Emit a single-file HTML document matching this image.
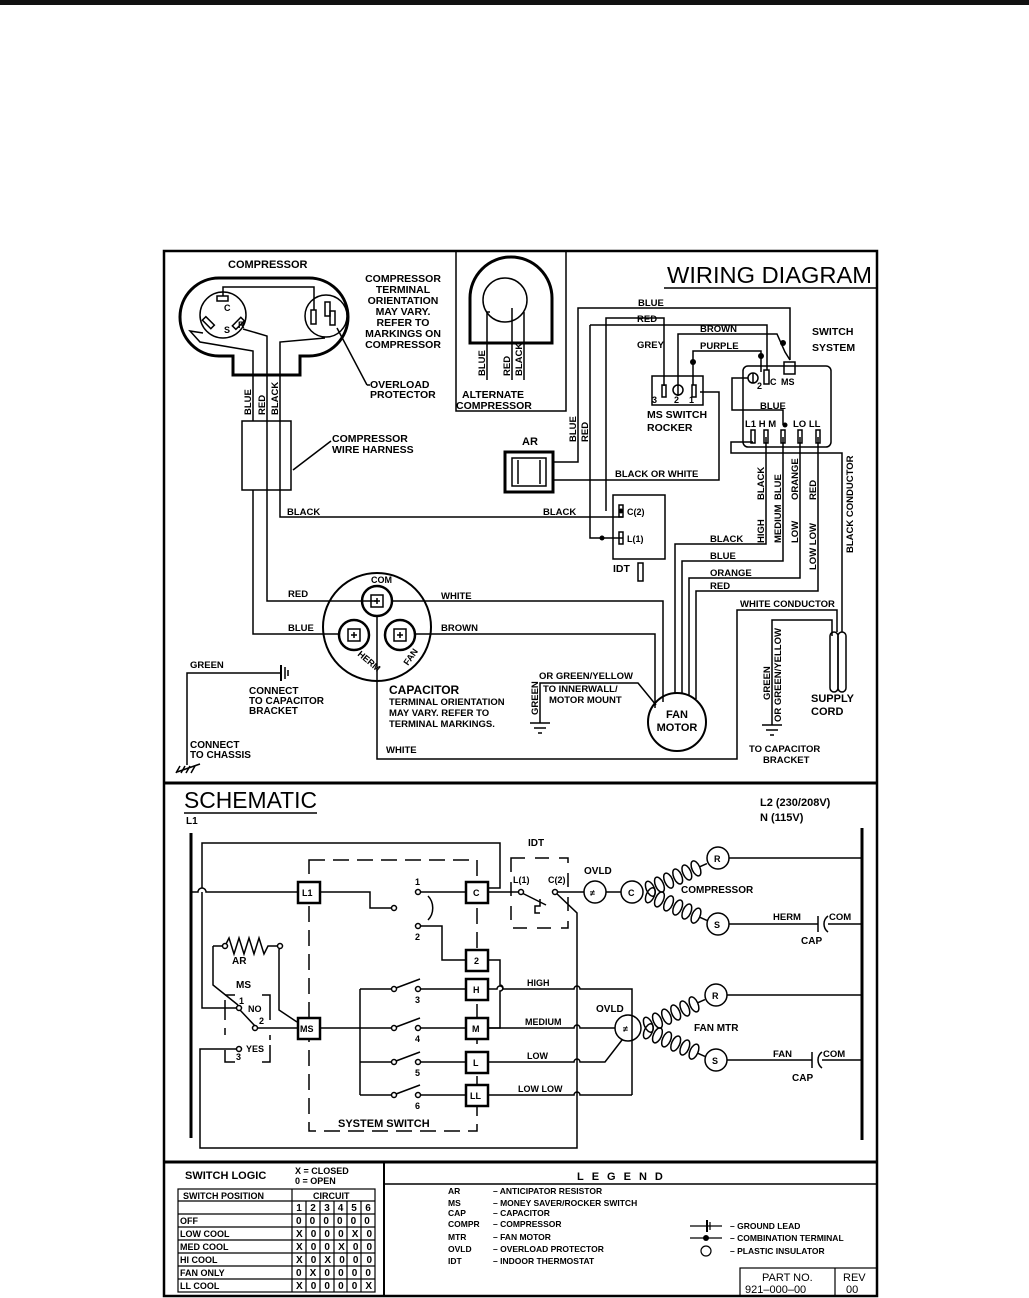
<!DOCTYPE html>
<html><head><meta charset="utf-8"><style>
html,body{margin:0;padding:0;background:#fff;width:1029px;height:1298px;overflow:hidden}
svg{display:block}
text{font-family:"Liberation Sans",sans-serif;font-weight:bold;fill:#000}
.n{font-weight:normal}
</style></head><body>
<svg width="1029" height="1298" viewBox="0 0 1029 1298" xmlns="http://www.w3.org/2000/svg">
<rect x="0" y="0" width="1029" height="5" fill="#111"/>
<g fill="none" stroke="#000" stroke-width="1.5">
<rect x="164" y="251" width="713" height="1045" stroke-width="2.5"/>
<line x1="164" y1="783" x2="877" y2="783" stroke-width="3"/>
<line x1="164" y1="1162" x2="877" y2="1162" stroke-width="3"/>
<line x1="384" y1="1162" x2="384" y2="1296" stroke-width="2"/>
<line x1="384" y1="1184" x2="877" y2="1184"/>
<line x1="664" y1="288" x2="877" y2="288"/>
<polyline points="456,251 456,411 566,411 566,251"/>
<path d="M470,343 V298 A41,41 0 0 1 552,298 V343 Z" stroke-width="3"/>
<circle cx="505" cy="300" r="22"/>
<polyline points="490,312 487,312 487,343"/>
<line x1="512" y1="308" x2="512" y2="343"/>
<line x1="524" y1="312" x2="524" y2="343"/>
<line x1="487" y1="343" x2="487" y2="380"/><line x1="512" y1="343" x2="512" y2="380"/><line x1="524" y1="343" x2="524" y2="380"/>
<path d="M219,278 H309 A39,39 0 0 1 309,356 H300 V375 H233 V356 H219 A39,39 0 0 1 219,278 Z" stroke-width="3"/>
<circle cx="223" cy="315" r="23"/>
<circle cx="326" cy="316" r="21"/>
<rect x="217" y="296" width="11" height="5"/>
<rect x="206" y="317" width="5" height="12" transform="rotate(-45 208 323)"/>
<rect x="236" y="317" width="5" height="12" transform="rotate(45 238 323)"/>
<rect x="311" y="310" width="5" height="14"/><rect x="325" y="302" width="5" height="14"/><rect x="330" y="311" width="5" height="14"/>
<polyline points="223,296 223,287 314,287 314,310"/>
<polyline points="203,333 190,331 200,342 253,351 253,421"/>
<polyline points="243,329 267,336 267,601 377,601"/>
<polyline points="325,338 280,342 280,517 623,517"/>
<line x1="337" y1="328" x2="367" y2="385"/>
<line x1="367" y1="385" x2="370" y2="385"/>
<rect x="242" y="421" width="49" height="69"/>
<line x1="331" y1="441" x2="293" y2="470"/>
<polyline points="253,490 253,634 340,634"/>
<circle cx="377" cy="627" r="54" stroke-width="2"/>
<circle cx="377" cy="601" r="15" stroke-width="2.5"/><rect x="371" y="595" width="12" height="12"/>
<circle cx="354" cy="635" r="15" stroke-width="2.5"/><rect x="348" y="629" width="12" height="12"/>
<circle cx="400" cy="635" r="15" stroke-width="2.5"/><rect x="394" y="629" width="12" height="12"/>
<line x1="377" y1="598" x2="377" y2="604"/><line x1="374" y1="601" x2="380" y2="601"/>
<line x1="354" y1="632" x2="354" y2="638"/><line x1="351" y1="635" x2="357" y2="635"/>
<line x1="400" y1="632" x2="400" y2="638"/><line x1="397" y1="635" x2="403" y2="635"/>
<polyline points="377,616 377,759 737,759 737,610 837,610 837,632"/>
<polyline points="392,601 663,601 663,702"/>
<polyline points="415,634 655,634 655,708"/>
<polyline points="187,765 187,673 281,673"/>
<line x1="281" y1="665" x2="281" y2="681" stroke-width="2"/><line x1="285" y1="667" x2="285" y2="679"/><line x1="288" y1="670" x2="288" y2="676"/>
<line x1="177" y1="772" x2="200" y2="764"/><line x1="180" y1="766" x2="176" y2="773"/><line x1="185" y1="766" x2="181" y2="773"/><line x1="190" y1="766" x2="186" y2="773"/><line x1="195" y1="766" x2="191" y2="773"/>
<polyline points="540,723 540,683 638,683 656,705"/>
<line x1="530" y1="723" x2="550" y2="723"/><line x1="534" y1="728" x2="546" y2="728"/><line x1="538" y1="733" x2="542" y2="733"/>
<circle cx="677" cy="722" r="29" stroke-width="2"/>
<polyline points="675,693 675,544 766,544 766,437"/>
<polyline points="682,694 682,561 783,561 783,437"/>
<polyline points="689,696 689,578 800,578 800,437"/>
<polyline points="696,699 696,591 818,591 818,437"/>
<rect x="830" y="632" width="8" height="60" rx="4"/>
<rect x="838" y="632" width="8" height="60" rx="4"/>
<polyline points="842,632 842,453 731,453 731,442 753,442"/>
<polyline points="832,636 832,620 772,620 772,725"/>
<line x1="762" y1="725" x2="782" y2="725"/><line x1="766" y1="730" x2="778" y2="730"/><line x1="770" y1="735" x2="774" y2="735"/>
<rect x="505" y="452" width="48" height="40" stroke-width="3"/>
<rect x="512" y="458" width="34" height="28"/>
<line x1="518" y1="460" x2="518" y2="484"/><line x1="540" y1="460" x2="540" y2="484"/>
<polyline points="553,462 578,462 578,308 790,308 790,360"/>
<polyline points="553,480 719,480 719,392 700,392"/>
<polyline points="590,325 767,325 767,370"/>
<polyline points="590,325 590,538 623,538"/>
<rect x="613" y="495" width="52" height="64"/>
<rect x="619" y="505" width="4" height="12"/><rect x="619" y="532" width="4" height="12"/>
<rect x="638" y="563" width="5" height="18"/>
<polyline points="606,511 606,318 664,318 664,386"/>
<rect x="652" y="376" width="51" height="29"/>
<rect x="662" y="385" width="4" height="12"/><circle cx="678" cy="390" r="5"/><line x1="678" y1="385" x2="678" y2="396"/><rect x="692" y="385" width="4" height="12"/>
<polyline points="678,385 678,334 777,334 785,352 790,360"/>
<polyline points="693,385 693,351 761,351 761,372"/>
<rect x="743" y="366" width="88" height="81" rx="5"/>
<circle cx="753" cy="378" r="5"/><line x1="753" y1="373" x2="753" y2="383"/>
<rect x="764" y="370" width="5" height="14"/>
<rect x="784" y="362" width="11" height="12"/>
<polyline points="748,378 732,378 732,410 783,410 783,425"/>
<rect x="751" y="430" width="4" height="13"/><rect x="764" y="430" width="4" height="13"/><rect x="781" y="430" width="4" height="13"/><rect x="798" y="430" width="4" height="13"/><rect x="816" y="430" width="4" height="13"/>
</g>
<g fill="#000">
<circle cx="621" cy="511" r="2.5"/><circle cx="602" cy="538" r="2.5"/><circle cx="693" cy="362" r="3"/><circle cx="761" cy="356" r="3"/><circle cx="783" cy="343" r="3"/><circle cx="785" cy="425" r="2.5"/>
</g>
<g font-size="10.5">
<text x="228" y="268" font-size="11">COMPRESSOR</text>
<text x="403" y="282" text-anchor="middle">COMPRESSOR</text>
<text x="403" y="293" text-anchor="middle">TERMINAL</text>
<text x="403" y="304" text-anchor="middle">ORIENTATION</text>
<text x="403" y="315" text-anchor="middle">MAY VARY.</text>
<text x="403" y="326" text-anchor="middle">REFER TO</text>
<text x="403" y="337" text-anchor="middle">MARKINGS ON</text>
<text x="403" y="348" text-anchor="middle">COMPRESSOR</text>
<text x="370" y="388">OVERLOAD</text><text x="370" y="398">PROTECTOR</text>
<text x="332" y="442">COMPRESSOR</text><text x="332" y="453">WIRE HARNESS</text>
<text x="224" y="333" font-size="9">S</text><text x="224" y="311" font-size="9">C</text><text x="238" y="328" font-size="9">R</text>
<text x="462" y="398">ALTERNATE</text><text x="456" y="409">COMPRESSOR</text>
<text x="667" y="283" font-size="23" class="n" textLength="205" lengthAdjust="spacingAndGlyphs">WIRING  DIAGRAM</text>
<text x="638" y="306" font-size="9.5">BLUE</text>
<text x="637" y="322" font-size="9.5">RED</text>
<text x="700" y="332" font-size="9.5">BROWN</text>
<text x="637" y="348" font-size="9.5">GREY</text>
<text x="700" y="349" font-size="9.5">PURPLE</text>
<text x="812" y="335">SWITCH</text><text x="812" y="351">SYSTEM</text>
<text x="652" y="403" font-size="9">3</text><text x="674" y="403" font-size="9">2</text><text x="689" y="403" font-size="9">1</text>
<text x="647" y="418">MS SWITCH</text><text x="647" y="431">ROCKER</text>
<text x="757" y="389" font-size="9">2</text><text x="770" y="385" font-size="9">C</text><text x="781" y="385" font-size="9">MS</text>
<text x="760" y="409" font-size="9.5">BLUE</text>
<text x="745" y="427" font-size="9.5">L1 H M</text><text x="793" y="427" font-size="9.5">LO LL</text>
<text x="522" y="445" font-size="11">AR</text>
<text x="615" y="477" font-size="9.5">BLACK OR WHITE</text>
<text x="287" y="515" font-size="9.5">BLACK</text>
<text x="543" y="515" font-size="9.5">BLACK</text>
<text x="627" y="515" font-size="9">C(2)</text>
<text x="627" y="542" font-size="9">L(1)</text>
<text x="613" y="572">IDT</text>
<text x="710" y="542" font-size="9.5">BLACK</text>
<text x="710" y="559" font-size="9.5">BLUE</text>
<text x="710" y="576" font-size="9.5">ORANGE</text>
<text x="710" y="589" font-size="9.5">RED</text>
<text x="740" y="607" font-size="9.5">WHITE CONDUCTOR</text>
<text x="288" y="597" font-size="9.5">RED</text>
<text x="288" y="631" font-size="9.5">BLUE</text>
<text x="441" y="599" font-size="9.5">WHITE</text>
<text x="441" y="631" font-size="9.5">BROWN</text>
<text x="371" y="583" font-size="9">COM</text>
<text x="190" y="668" font-size="9.5">GREEN</text>
<text x="249" y="694" font-size="10">CONNECT</text><text x="249" y="704" font-size="10">TO CAPACITOR</text><text x="249" y="714" font-size="10">BRACKET</text>
<text x="190" y="748" font-size="10">CONNECT</text><text x="190" y="758" font-size="10">TO CHASSIS</text>
<text x="389" y="694" font-size="12">CAPACITOR</text>
<text x="389" y="705" font-size="9.5">TERMINAL ORIENTATION</text>
<text x="389" y="716" font-size="9.5">MAY VARY. REFER TO</text>
<text x="389" y="727" font-size="9.5">TERMINAL MARKINGS.</text>
<text x="386" y="753" font-size="9.5">WHITE</text>
<text x="539" y="679" font-size="9.5">OR GREEN/YELLOW</text>
<text x="543" y="692" font-size="9.5">TO INNERWALL/</text>
<text x="549" y="703" font-size="9.5">MOTOR MOUNT</text>
<text x="677" y="718" text-anchor="middle" font-size="11">FAN</text>
<text x="677" y="731" text-anchor="middle" font-size="11">MOTOR</text>
<text x="811" y="702" font-size="11">SUPPLY</text><text x="811" y="715" font-size="11">CORD</text>
<text x="749" y="752" font-size="9.5">TO CAPACITOR</text><text x="763" y="763" font-size="9.5">BRACKET</text>
<g font-size="9.5">
<text transform="translate(251,415) rotate(-90)">BLUE</text>
<text transform="translate(265,415) rotate(-90)">RED</text>
<text transform="translate(278,415) rotate(-90)">BLACK</text>
<text transform="translate(485,376) rotate(-90)">BLUE</text>
<text transform="translate(510,376) rotate(-90)">RED</text>
<text transform="translate(522,376) rotate(-90)">BLACK</text>
<text transform="translate(576,442) rotate(-90)">BLUE</text>
<text transform="translate(588,442) rotate(-90)">RED</text>
<text transform="translate(764,500) rotate(-90)">BLACK</text>
<text transform="translate(764,543) rotate(-90)">HIGH</text>
<text transform="translate(781,500) rotate(-90)">BLUE</text>
<text transform="translate(781,543) rotate(-90)">MEDIUM</text>
<text transform="translate(798,500) rotate(-90)">ORANGE</text>
<text transform="translate(798,543) rotate(-90)">LOW</text>
<text transform="translate(816,500) rotate(-90)">RED</text>
<text transform="translate(816,570) rotate(-90)">LOW LOW</text>
<text transform="translate(853,553) rotate(-90)">BLACK CONDUCTOR</text>
<text transform="translate(538,715) rotate(-90)">GREEN</text>
<text transform="translate(770,700) rotate(-90)">GREEN</text>
<text transform="translate(781,722) rotate(-90)">OR GREEN/YELLOW</text>
<text transform="translate(357,655) rotate(40)" font-size="9">HERM</text>
<text transform="translate(408,666) rotate(-55)" font-size="9">FAN</text>
</g>
</g>

<g fill="none" stroke="#000" stroke-width="1.5">
<line x1="184" y1="813" x2="317" y2="813"/>
<line x1="191" y1="833" x2="191" y2="1138" stroke-width="3"/>
<line x1="862" y1="828" x2="862" y2="1140" stroke-width="3"/>
<rect x="309" y="860" width="168" height="271" stroke-dasharray="16,8"/>
<path d="M202,888 V843 H500 V888 H488"/>
<path d="M191,892 H198 A4,4 0 0 1 206,892 H297"/>
<path d="M319,892 H370 V908 H392"/>
<path d="M420,892 H466"/>
<path d="M428,896 A14,16 0 0 1 428,920"/>
<path d="M420,926 H442 V960 H466"/>
<path d="M488,960 H500 V985 A3,3 0 0 1 500,991 V1028 H488"/>
<path d="M360,989 V1095"/>
<path d="M360,989 H392 M396,988 L420,979 M420,989 H466"/>
<path d="M319,1028 H392 M396,1027 L420,1018 M420,1028 H466"/>
<path d="M360,1062 H392 M396,1061 L420,1052 M420,1062 H466"/>
<path d="M360,1095 H392 M396,1094 L420,1085 M420,1095 H466"/>
<path d="M488,989 H497 A3,3 0 0 1 503,989 H574 A3,3 0 0 1 580,989 H632 V1095"/>
<path d="M488,1028 H574 A3,3 0 0 1 580,1028 H615"/>
<path d="M488,1062 H574 A3,3 0 0 1 580,1062 H605 L622,1040"/>
<path d="M488,1095 H574 A3,3 0 0 1 580,1095 H632"/>
<rect x="511" y="858" width="57" height="70" stroke-dasharray="14,10"/>
<path d="M488,892 H519 M522,893 L546,905 M540,899 V906 H535 V913 H540"/>
<path d="M555,892 H584 M555,892 L577,913 V1148 H200 V1049 H236"/>
<circle cx="521" cy="892" r="2.5" fill="#fff"/><circle cx="555" cy="892" r="2.5" fill="#fff"/>
<circle cx="595" cy="892" r="11"/><line x1="606" y1="892" x2="621" y2="892"/><circle cx="632" cy="892" r="11"/>
<circle cx="718" cy="858" r="11"/><circle cx="718" cy="924" r="11"/>
<line x1="729" y1="858" x2="862" y2="858"/>
<path d="M729,924 H818 M818,916 V932 M828,916 A10,10 0 0 0 828,932 M828,924 H862"/>
<circle cx="628" cy="1028" r="13"/>
<circle cx="716" cy="995" r="11"/><circle cx="716" cy="1060" r="11"/>
<line x1="727" y1="995" x2="862" y2="995"/>
<path d="M727,1060 H812 M812,1052 V1068 M822,1052 A10,10 0 0 0 822,1068 M822,1060 H862"/>
<g transform="translate(643,892) rotate(-24)"><ellipse cx="8" cy="0" rx="4" ry="8"/><ellipse cx="18" cy="0" rx="4" ry="8"/><ellipse cx="28" cy="0" rx="4" ry="8"/><ellipse cx="38" cy="0" rx="4" ry="8"/><ellipse cx="48" cy="0" rx="4" ry="8"/><ellipse cx="58" cy="0" rx="4" ry="8"/><line x1="62" y1="0" x2="70" y2="0"/></g>
<g transform="translate(643,892) rotate(24)"><ellipse cx="8" cy="0" rx="4" ry="8"/><ellipse cx="18" cy="0" rx="4" ry="8"/><ellipse cx="28" cy="0" rx="4" ry="8"/><ellipse cx="38" cy="0" rx="4" ry="8"/><ellipse cx="48" cy="0" rx="4" ry="8"/><ellipse cx="58" cy="0" rx="4" ry="8"/><line x1="62" y1="0" x2="70" y2="0"/></g>
<g transform="translate(641,1028) rotate(-24)"><ellipse cx="8" cy="0" rx="4" ry="8"/><ellipse cx="18" cy="0" rx="4" ry="8"/><ellipse cx="28" cy="0" rx="4" ry="8"/><ellipse cx="38" cy="0" rx="4" ry="8"/><ellipse cx="48" cy="0" rx="4" ry="8"/><ellipse cx="58" cy="0" rx="4" ry="8"/><line x1="62" y1="0" x2="70" y2="0"/></g>
<g transform="translate(641,1028) rotate(24)"><ellipse cx="8" cy="0" rx="4" ry="8"/><ellipse cx="18" cy="0" rx="4" ry="8"/><ellipse cx="28" cy="0" rx="4" ry="8"/><ellipse cx="38" cy="0" rx="4" ry="8"/><ellipse cx="48" cy="0" rx="4" ry="8"/><ellipse cx="58" cy="0" rx="4" ry="8"/><line x1="62" y1="0" x2="70" y2="0"/></g>
<path d="M213,946 H225 L229,938 L234,954 L239,938 L244,954 L249,938 L254,954 L259,938 L264,954 L268,946 H280 L279,950 V1010 L297,1022"/>
<path d="M213,946 V985 L238,1005"/>
<path d="M202,892 V1008 H236"/>
<path d="M240,1010 L255,1026 M258,1028 H297"/>
<path d="M225,1035 V1028 M225,1020 V1000 M225,995 H235 M262,995 H270 V1020 M270,1035 V1040 M225,1050 V1062 H235 M262,1062 H270 V1045"/>
<circle cx="239" cy="1008" r="2.5" fill="#fff"/><circle cx="255" cy="1028" r="2.5" fill="#fff"/><circle cx="239" cy="1049" r="2.5" fill="#fff"/>
<circle cx="418" cy="892" r="2.5" fill="#fff"/><circle cx="394" cy="908" r="2.5" fill="#fff"/><circle cx="418" cy="926" r="2.5" fill="#fff"/>
<circle cx="394" cy="989" r="2.5" fill="#fff"/><circle cx="418" cy="989" r="2.5" fill="#fff"/>
<circle cx="394" cy="1028" r="2.5" fill="#fff"/><circle cx="418" cy="1028" r="2.5" fill="#fff"/>
<circle cx="394" cy="1062" r="2.5" fill="#fff"/><circle cx="418" cy="1062" r="2.5" fill="#fff"/>
<circle cx="394" cy="1095" r="2.5" fill="#fff"/><circle cx="418" cy="1095" r="2.5" fill="#fff"/>
<circle cx="225" cy="946" r="2.5" fill="#fff"/><circle cx="280" cy="946" r="2.5" fill="#fff"/>
</g>
<g stroke="#000" stroke-width="2.5" fill="#fff">
<rect x="298" y="882" width="22" height="21"/><rect x="466" y="882" width="22" height="21"/>
<rect x="466" y="950" width="22" height="21"/><rect x="466" y="979" width="22" height="21"/>
<rect x="298" y="1018" width="22" height="21"/><rect x="466" y="1018" width="22" height="21"/>
<rect x="466" y="1052" width="22" height="21"/><rect x="466" y="1085" width="22" height="21"/>
</g>
<g font-size="10">
<text x="184" y="808" font-size="23" class="n" textLength="133" lengthAdjust="spacingAndGlyphs">SCHEMATIC</text>
<text x="186" y="824">L1</text>
<text x="760" y="806" font-size="11">L2 (230/208V)</text>
<text x="760" y="821" font-size="11">N (115V)</text>
<text x="302" y="896" font-size="9">L1</text><text x="473" y="896" font-size="9">C</text>
<text x="474" y="964" font-size="9">2</text><text x="473" y="993" font-size="9">H</text>
<text x="300" y="1032" font-size="9">MS</text><text x="472" y="1032" font-size="9">M</text>
<text x="473" y="1066" font-size="9">L</text><text x="470" y="1099" font-size="9">LL</text>
<text x="415" y="885" font-size="9">1</text><text x="415" y="940" font-size="9">2</text>
<text x="415" y="1003" font-size="9">3</text><text x="415" y="1042" font-size="9">4</text>
<text x="415" y="1076" font-size="9">5</text><text x="415" y="1109" font-size="9">6</text>
<text x="338" y="1127" font-size="11">SYSTEM SWITCH</text>
<text x="528" y="846">IDT</text>
<text x="513" y="883" font-size="9">L(1)</text><text x="548" y="883" font-size="9">C(2)</text>
<text x="584" y="874">OVLD</text>
<text x="590" y="896" font-size="9">≠</text><text x="628" y="896" font-size="9">C</text>
<text x="714" y="862" font-size="9">R</text><text x="714" y="928" font-size="9">S</text>
<text x="681" y="893">COMPRESSOR</text>
<text x="773" y="920" font-size="9.5">HERM</text><text x="829" y="920" font-size="9.5">COM</text>
<text x="801" y="944">CAP</text>
<text x="596" y="1012">OVLD</text>
<text x="623" y="1032" font-size="9">≠</text>
<text x="712" y="999" font-size="9">R</text><text x="712" y="1064" font-size="9">S</text>
<text x="694" y="1031">FAN MTR</text>
<text x="773" y="1057" font-size="9.5">FAN</text><text x="823" y="1057" font-size="9.5">COM</text>
<text x="792" y="1081">CAP</text>
<text x="527" y="986" font-size="9">HIGH</text>
<text x="525" y="1025" font-size="9">MEDIUM</text>
<text x="527" y="1059" font-size="9">LOW</text>
<text x="518" y="1092" font-size="9">LOW LOW</text>
<text x="232" y="964">AR</text>
<text x="236" y="988">MS</text>
<text x="239" y="1004" font-size="9">1</text><text x="248" y="1012" font-size="9">NO</text>
<text x="259" y="1024" font-size="9">2</text>
<text x="246" y="1052" font-size="9">YES</text><text x="236" y="1060" font-size="9">3</text>
</g>

<g fill="none" stroke="#000" stroke-width="1.2">
<rect x="178" y="1189" width="197" height="103"/>
<line x1="292" y1="1189" x2="292" y2="1292"/>
<line x1="178" y1="1201" x2="375" y2="1201"/>
<line x1="178" y1="1214" x2="375" y2="1214"/>
<line x1="178" y1="1227" x2="375" y2="1227"/>
<line x1="178" y1="1240" x2="375" y2="1240"/>
<line x1="178" y1="1253" x2="375" y2="1253"/>
<line x1="178" y1="1266" x2="375" y2="1266"/>
<line x1="178" y1="1279" x2="375" y2="1279"/>
<line x1="306" y1="1201" x2="306" y2="1292"/><line x1="320" y1="1201" x2="320" y2="1292"/>
<line x1="334" y1="1201" x2="334" y2="1292"/><line x1="347" y1="1201" x2="347" y2="1292"/>
<line x1="361" y1="1201" x2="361" y2="1292"/>
<rect x="740" y="1268" width="137" height="28"/>
<line x1="835" y1="1268" x2="835" y2="1296"/>
<line x1="690" y1="1226" x2="722" y2="1226"/><line x1="707" y1="1220" x2="707" y2="1232" stroke-width="2"/><line x1="710" y1="1222" x2="710" y2="1230"/>
<line x1="690" y1="1238" x2="722" y2="1238"/>
<circle cx="706" cy="1251" r="5"/>
</g>
<circle cx="706" cy="1238" r="3" fill="#000"/>
<g font-size="9.5">
<text x="185" y="1179" font-size="11">SWITCH LOGIC</text>
<text x="295" y="1174" font-size="9">X = CLOSED</text><text x="295" y="1184" font-size="9">0 = OPEN</text>
<text x="183" y="1199" font-size="9">SWITCH POSITION</text><text x="313" y="1199" font-size="9">CIRCUIT</text>
<g font-size="10" class="n" text-anchor="middle">
<text x="299" y="1211">1</text><text x="313" y="1211">2</text><text x="327" y="1211">3</text><text x="340.5" y="1211">4</text><text x="354" y="1211">5</text><text x="368" y="1211">6</text>
</g>
<text x="180" y="1224" font-size="9">OFF</text><text x="180" y="1237" font-size="9">LOW COOL</text><text x="180" y="1250" font-size="9">MED COOL</text>
<text x="180" y="1263" font-size="9">HI COOL</text><text x="180" y="1276" font-size="9">FAN ONLY</text><text x="180" y="1289" font-size="9">LL COOL</text>
<g font-size="10" class="n" letter-spacing="8.1">
<text x="296" y="1224">000000</text><text x="296" y="1237">X000X0</text><text x="296" y="1250">X00X00</text>
<text x="296" y="1263">X0X000</text><text x="296" y="1276">0X0000</text><text x="296" y="1289">X0000X</text>
</g>
<text x="577" y="1180" font-size="11" letter-spacing="8">LEGEND</text>
<g font-size="8.5">
<text x="448" y="1194">AR</text><text x="493" y="1194">–  ANTICIPATOR RESISTOR</text>
<text x="448" y="1206">MS</text><text x="493" y="1206">–  MONEY SAVER/ROCKER SWITCH</text>
<text x="448" y="1216">CAP</text><text x="493" y="1216">–  CAPACITOR</text>
<text x="448" y="1227">COMPR</text><text x="493" y="1227">–  COMPRESSOR</text>
<text x="448" y="1240">MTR</text><text x="493" y="1240">–  FAN MOTOR</text>
<text x="448" y="1252">OVLD</text><text x="493" y="1252">–  OVERLOAD PROTECTOR</text>
<text x="448" y="1264">IDT</text><text x="493" y="1264">–  INDOOR THERMOSTAT</text>
<text x="730" y="1229">–  GROUND LEAD</text>
<text x="730" y="1241">–  COMBINATION TERMINAL</text>
<text x="730" y="1254">–  PLASTIC INSULATOR</text>
</g>
<text x="762" y="1281" font-size="11" class="n">PART NO.</text>
<text x="745" y="1293" font-size="11" class="n">921–000–00</text>
<text x="843" y="1281" font-size="11" class="n">REV</text>
<text x="846" y="1293" font-size="11" class="n">00</text>
</g>
</svg>
</body></html>
